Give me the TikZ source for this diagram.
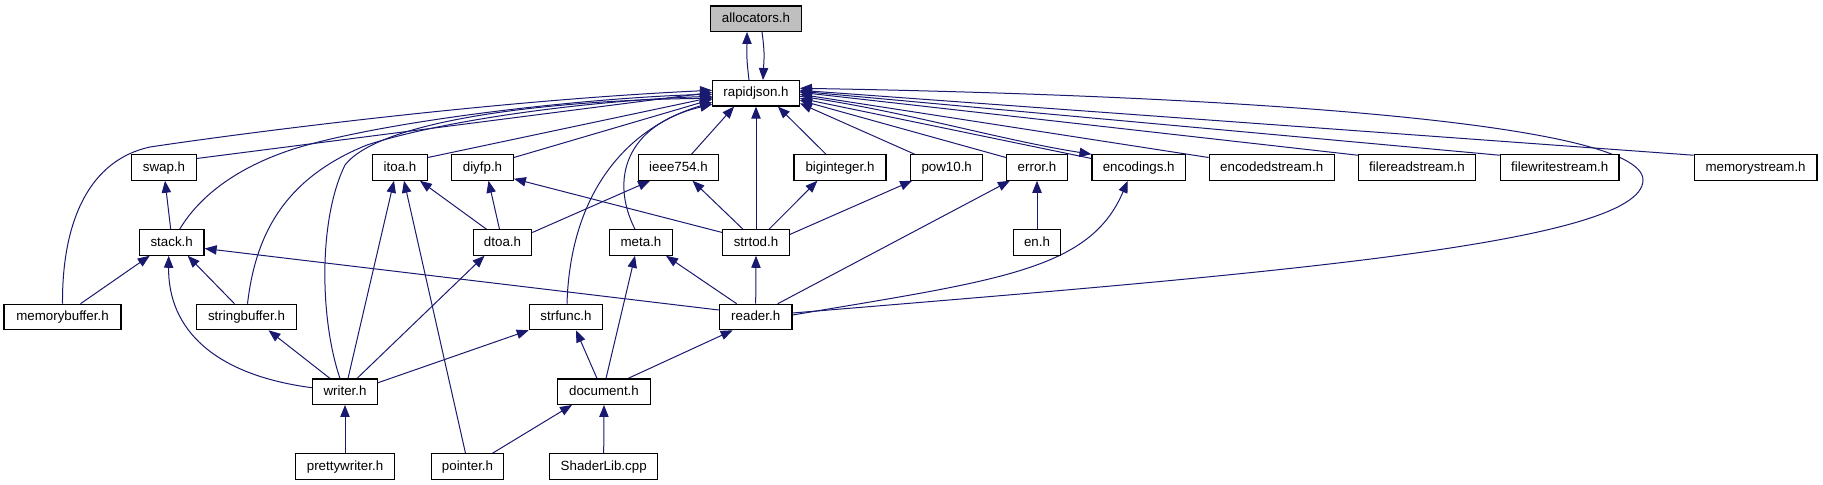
\documentclass[tikz,border=0pt]{standalone}
\usepackage{fontspec}
\setmainfont{Liberation Sans}
\usetikzlibrary{calc,arrows.meta}
\definecolor{edgeblue}{HTML}{191970}
\definecolor{hilite}{HTML}{BFBFBF}
\pgfdeclarelayer{edges}
\pgfsetlayers{edges,main}
\begin{document}
\begin{tikzpicture}[x=0.75pt,y=-0.75pt,
  box/.style={draw=black,line width=0.9pt,fill=white,inner sep=0pt,minimum height=19pt,
    font=\fontsize{10}{12}\selectfont,text height=7.2pt,text depth=1.8pt},
  wbox/.style={box,minimum width=#1*0.75pt},
  edge/.style={draw=edgeblue,line width=0.75pt,-{Triangle[length=9pt,width=7pt]}}]
\useasboundingbox (0,0) rectangle (1823,485);
% row 1-2
\node[wbox=90.6,fill=hilite] (alloc) at (756,18.7) {allocators.h};
\node[wbox=86.6] (rj) at (756,93.3) {rapidjson.h};
% row 3
\node[wbox=64.3] (swap) at (164,167.5) {swap.h};
\node[wbox=54.6] (itoa) at (400,167.5) {itoa.h};
\node[wbox=61.6] (diyfp) at (482.5,167.5) {diyfp.h};
\node[wbox=79.6] (ieee) at (678.5,167.5) {ieee754.h};
\node[wbox=92] (bigint) at (840,167.5) {biginteger.h};
\node[wbox=72] (pow) at (946.7,167.5) {pow10.h};
\node[wbox=61] (err) at (1037,167.5) {error.h};
\node[wbox=93.3] (enc) at (1138.7,167.5) {encodings.h};
\node[wbox=125] (encs) at (1271.7,167.5) {encodedstream.h};
\node[wbox=117] (frs) at (1417,167.5) {filereadstream.h};
\node[wbox=118.7] (fws) at (1559.7,167.5) {filewritestream.h};
\node[wbox=122.8] (mems) at (1755.6,167.5) {memorystream.h};
% row 4
\node[wbox=64.7] (stack) at (171.7,242.5) {stack.h};
\node[wbox=58.4] (dtoa) at (502.5,242.5) {dtoa.h};
\node[wbox=62.3] (meta) at (641,242.5) {meta.h};
\node[wbox=66.3] (strtod) at (756,242.5) {strtod.h};
\node[wbox=47.7] (en) at (1037,242.5) {en.h};
% row 5
\node[wbox=117] (mbuf) at (62.5,317) {memorybuffer.h};
\node[wbox=100.3] (sbuf) at (246.5,317) {stringbuffer.h};
\node[wbox=73.4] (strf) at (566,317) {strfunc.h};
\node[wbox=72.7] (reader) at (755.7,317) {reader.h};
% row 6
\node[wbox=65] (writer) at (345,391.7) {writer.h};
\node[wbox=92.3] (doc) at (604,391.7) {document.h};
% row 7
\node[wbox=98.4] (pw) at (345,466.5) {prettywriter.h};
\node[wbox=72.3] (ptr) at (467.5,466.5) {pointer.h};
\node[wbox=108] (shader) at (603.7,466.5) {ShaderLib.cpp};

\begin{pgfonlayer}{edges}
% allocators <-> rapidjson
\draw[edge] ($(rj.north)+(-7,0)$) .. controls +(-3,-25) and +(0,22) .. ($(alloc.south)+(-9,0)$);
\draw[edge] ($(alloc.south)+(6,0)$) .. controls +(3,22) and +(1,-22) .. ($(rj.north)+(7,0)$);

% into rapidjson, left side
\draw[edge] (mbuf.north) .. controls (62,220) and (90,160) .. (150,147)
  .. controls (250,132) and (500,100) .. ($(rj.west)+(0,-3)$);
\draw[edge] ($(swap.east)+(0,-9)$) -- ($(rj.west)+(0,-1)$);
\draw[edge] ($(stack.north)+(8,0)$) .. controls (200,195) and (240,165) .. (300,147)
  .. controls (400,118) and (600,97) .. ($(rj.west)+(0,1)$);
\draw[edge] ($(sbuf.north)+(1,0)$) .. controls (255,240) and (280,180) .. (367,145)
  .. controls (450,118) and (600,100) .. ($(rj.west)+(0,3)$);
\draw[edge] ($(writer.north)+(-5,0)$) .. controls (320,320) and (318,220) .. (345,165)
  .. controls (380,120) and (550,100) .. ($(rj.west)+(0,5)$);
\draw[edge] ($(itoa.east)+(0,-10)$) -- ($(rj.west)+(0,4)$);
\draw[edge] ($(diyfp.east)+(0,-10)$) -- ($(rj.west)+(0,6)$);
\draw[edge] ($(strf.north)+(1,0)$) .. controls (570,200) and (620,130) .. ($(rj.west)+(0,9)$);
\draw[edge] ($(meta.north)+(-6,0)$) .. controls (610,180) and (625,125) .. ($(rj.west)+(0,11)$);
% bottom
\draw[edge] ($(ieee.north)+(13,0)$) -- ($(rj.south west)+(22,0)$);
\draw[edge] (strtod.north) -- (rj.south);
\draw[edge] ($(bigint.north)+(-14,0)$) -- ($(rj.south east)+(-22,0)$);
% right side
\draw[edge] ($(pow.north)+(-32,0)$) -- ($(rj.east)+(0,10)$);
\draw[edge] ($(err.west)+(0,-10)$) -- ($(rj.east)+(0,7)$);
\draw[edge] ($(rj.east)+(0,3)$) .. controls (900,110) and (1000,140) .. ($(enc.north west)+(0,0)$);
\draw[edge] ($(enc.west)+(0,-9)$) -- ($(rj.east)+(0,5)$);
\draw[edge] ($(encs.west)+(0,-10)$) -- ($(rj.east)+(0,1)$);
\draw[edge] ($(frs.north west)+(0,1)$) -- ($(rj.east)+(0,-1)$);
\draw[edge] ($(fws.north west)+(0,1)$) -- ($(rj.east)+(0,-2)$);
\draw[edge] ($(mems.north west)+(0,1)$) -- ($(rj.east)+(0,-3)$);
\draw[edge] ($(reader.east)+(0,-4)$) .. controls (1250,275) and (1643,245) .. (1643,180)
  .. controls (1643,120) and (1200,95) .. ($(rj.east)+(0,-5)$);

% other edges
\draw[edge] ($(stack.north)+(-1,0)$) -- ($(swap.south)+(1,0)$);
\draw[edge] ($(mbuf.north)+(18,0)$) -- ($(stack.south)+(-22,0)$);
\draw[edge] ($(writer.west)+(0,-4)$) .. controls (215,375) and (168,330) .. ($(stack.south)+(-3,0)$);
\draw[edge] ($(sbuf.north)+(-12,0)$) -- ($(stack.south)+(16,0)$);
\draw[edge] ($(reader.west)+(0,-7)$) -- ($(stack.east)+(0,6)$);
\draw[edge] ($(writer.north)+(-15,0)$) -- ($(sbuf.south)+(22,0)$);
\draw[edge] ($(writer.north)+(3,0)$) -- ($(itoa.south)+(-6,0)$);
\draw[edge] ($(ptr.north)+(-2,0)$) -- ($(itoa.south)+(4,0)$);
\draw[edge] ($(dtoa.north)+(-16,0)$) -- ($(itoa.south east)+(-8,0)$);
\draw[edge] ($(dtoa.north)+(-3,0)$) -- ($(diyfp.south)+(6,0)$);
\draw[edge] ($(strtod.west)+(0,-10)$) -- ($(diyfp.south east)+(0,-2)$);
\draw[edge] ($(dtoa.east)+(0,-10)$) -- ($(ieee.south west)+(12,0)$);
\draw[edge] ($(strtod.north)+(-13,0)$) -- ($(ieee.south)+(14,0)$);
\draw[edge] ($(strtod.north)+(13,0)$) -- ($(bigint.south west)+(24,0)$);
\draw[edge] ($(strtod.east)+(0,-8)$) -- ($(pow.south west)+(2,0)$);
\draw[edge] (reader.north) -- (strtod.south);
\draw[edge] ($(reader.north)+(-19,0)$) -- ($(meta.south)+(25,0)$);
\draw[edge] ($(doc.north)+(2,0)$) -- ($(meta.south)+(-6,0)$);
\draw[edge] (en.north) -- (err.south);
\draw[edge] ($(reader.north)+(22,0)$) -- ($(err.south west)+(4,0)$);
\draw[edge] ($(reader.east)+(0,-2)$) .. controls (1000,280) and (1090,270) .. ($(enc.south)+(-11,0)$);
\draw[edge] ($(writer.north)+(12,0)$) -- ($(dtoa.south)+(-18,0)$);
\draw[edge] ($(writer.east)+(0,-9)$) -- (strf.south west);
\draw[edge] ($(doc.north)+(-7,0)$) -- ($(strf.south)+(10,0)$);
\draw[edge] ($(doc.north)+(24,0)$) -- ($(reader.south)+(-23,0)$);
\draw[edge] ($(ptr.north)+(25,0)$) -- ($(doc.south)+(-32,0)$);
\draw[edge] (shader.north) -- (doc.south);
\draw[edge] (pw.north) -- (writer.south);
\end{pgfonlayer}
\end{tikzpicture}
\end{document}
